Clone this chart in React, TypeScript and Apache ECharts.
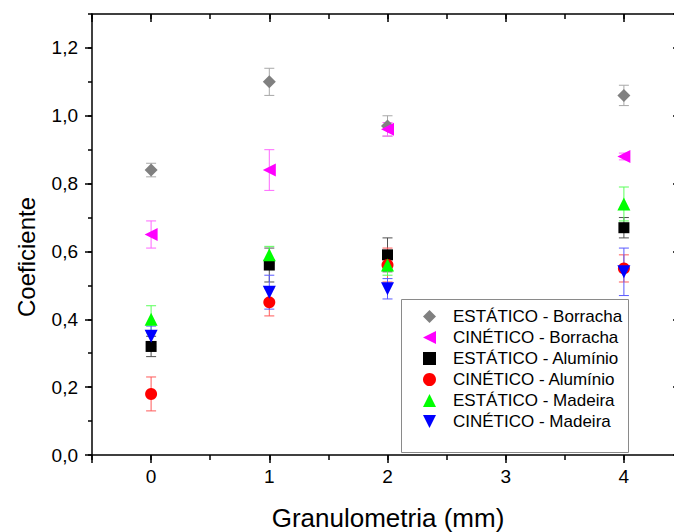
import React, { useEffect, useRef } from "react";
import * as echarts from "echarts";

const xValues = [0, 1, 2, 4];
const seriesNames = [
  "ESTÁTICO - Borracha",
  "CINÉTICO - Borracha",
  "ESTÁTICO - Alumínio",
  "CINÉTICO - Alumínio",
  "ESTÁTICO - Madeira",
  "CINÉTICO - Madeira",
];
const estaticoBorracha = [0.84, 1.1, 0.97, 1.06];
const estaticoBorrachaErr = [0.02, 0.04, 0.03, 0.03];
const cineticoBorracha = [0.65, 0.84, 0.96, 0.88];
const cineticoBorrachaErr = [0.04, 0.06, 0.02, 0.01];
const estaticoAluminio = [0.32, 0.56, 0.59, 0.67];
const estaticoAluminioErr = [0.03, 0.05, 0.05, 0.03];
const cineticoAluminio = [0.18, 0.45, 0.56, 0.55];
const cineticoAluminioErr = [0.05, 0.04, 0.05, 0.04];
const estaticoMadeira = [0.4, 0.59, 0.56, 0.74];
const estaticoMadeiraErr = [0.04, 0.025, 0.03, 0.05];
const cineticoMadeira = [0.35, 0.48, 0.49, 0.54];
const cineticoMadeiraErr = [0.03, 0.05, 0.03, 0.07];

const yTickLabels = ["0,0", "0,2", "0,4", "0,6", "0,8", "1,0", "1,2"];
const xTickLabels = ["0", "1", "2", "3", "4"];

const FONT = "'Liberation Sans', Arial, sans-serif";

const markerColors = ["#808080", "#ff00ff", "#000000", "#ff0000", "#00ff00", "#0000ff"];
const errColors = ["#a8a8a8", "#ff66ff", "#505050", "#ff5a5a", "#5aff5a", "#5a5aff"];
const symbols = [
  "diamond",
  "path://M0,5 L10,0 L10,10 Z",
  "rect",
  "circle",
  "path://M5,0 L10,10 L0,10 Z",
  "path://M0,0 L10,0 L5,10 Z",
];
const symbolSizes = [13, 13, 11, 12, 13, 13];

const values = [
  estaticoBorracha,
  cineticoBorracha,
  estaticoAluminio,
  cineticoAluminio,
  estaticoMadeira,
  cineticoMadeira,
];
const errors = [
  estaticoBorrachaErr,
  cineticoBorrachaErr,
  estaticoAluminioErr,
  cineticoAluminioErr,
  estaticoMadeiraErr,
  cineticoMadeiraErr,
];

export default function App() {
  const ref = useRef<HTMLDivElement>(null);
  useEffect(() => {
    if (!ref.current) return;
    const chart = echarts.init(ref.current, undefined, { renderer: "svg" });

    const errSeries = values.map((vals, si) => ({
      type: "custom",
      xAxisIndex: 0,
      yAxisIndex: 0,
      z: 2,
      silent: true,
      encode: { x: 0, y: [1, 2] },
      data: vals.map((v, i) => [xValues[i], v - errors[si][i], v + errors[si][i]]),
      renderItem: (params: any, api: any) => {
        const x = api.value(0);
        const top = api.coord([x, api.value(2)]);
        const bot = api.coord([x, api.value(1)]);
        const hw = 5;
        const st = { stroke: errColors[si], lineWidth: 1 };
        return {
          type: "group",
          children: [
            { type: "line", shape: { x1: top[0], y1: top[1], x2: bot[0], y2: bot[1] }, style: st },
            { type: "line", shape: { x1: top[0] - hw, y1: top[1], x2: top[0] + hw, y2: top[1] }, style: st },
            { type: "line", shape: { x1: bot[0] - hw, y1: bot[1], x2: bot[0] + hw, y2: bot[1] }, style: st },
          ],
        };
      },
    }));

    const scatterSeries = values.map((vals, si) => ({
      type: "scatter",
      name: seriesNames[si],
      xAxisIndex: 0,
      yAxisIndex: 0,
      z: 3,
      symbol: symbols[si],
      symbolSize: symbolSizes[si],
      itemStyle: { color: markerColors[si], opacity: 1 },
      data: vals.map((v, i) => [xValues[i], v]),
    }));

    const axisLine = { show: true, onZero: false, lineStyle: { color: "#000", width: 1.5 } };
    const noLine = { show: false, onZero: false };
    const tickStyle = { color: "#000", width: 1.5 };

    chart.setOption({
      animation: false,
      backgroundColor: "#fff",
      grid: { left: 92, top: 14, width: 591, height: 441, containLabel: false },
      xAxis: [
        {
          type: "value",
          position: "bottom",
          min: -0.5,
          max: 4.5,
          splitNumber: 5,
          axisLine,
          axisTick: { show: true, inside: false, length: 8, lineStyle: tickStyle },
          axisLabel: {
            margin: 12,
            fontSize: 19,
            fontFamily: FONT,
            color: "#000",
            formatter: (v: number) => (Number.isInteger(v) && v >= 0 ? xTickLabels[v] ?? "" : ""),
          },
          splitLine: { show: false },
        },
        {
          type: "value",
          position: "bottom",
          min: -0.5,
          max: 4.5,
          interval: 0.5,
          axisLine: noLine,
          axisTick: { show: true, inside: false, length: 5, lineStyle: tickStyle },
          axisLabel: { show: false },
          splitLine: { show: false },
        },
        {
          type: "value",
          position: "top",
          min: -0.5,
          max: 4.5,
          splitNumber: 5,
          axisLine,
          axisTick: { show: true, inside: true, length: 8, lineStyle: tickStyle },
          axisLabel: { show: false },
          splitLine: { show: false },
        },
        {
          type: "value",
          position: "top",
          min: -0.5,
          max: 4.5,
          interval: 0.5,
          axisLine: noLine,
          axisTick: { show: true, inside: true, length: 5, lineStyle: tickStyle },
          axisLabel: { show: false },
          splitLine: { show: false },
        },
      ],
      yAxis: [
        {
          type: "value",
          position: "left",
          min: 0,
          max: 1.3,
          interval: 0.2,
          axisLine,
          axisTick: { show: true, inside: false, length: 7, lineStyle: tickStyle },
          axisLabel: {
            margin: 14,
            fontSize: 19,
            fontFamily: FONT,
            color: "#000",
            showMaxLabel: false,
            formatter: (v: number) => {
              const idx = Math.round(v / 0.2);
              return Math.abs(idx * 0.2 - v) < 1e-6 ? yTickLabels[idx] ?? "" : "";
            },
          },
          splitLine: { show: false },
        },
        {
          type: "value",
          position: "left",
          min: 0,
          max: 1.3,
          interval: 0.1,
          axisLine: noLine,
          axisTick: { show: true, inside: false, length: 4, lineStyle: tickStyle },
          axisLabel: { show: false },
          splitLine: { show: false },
        },
        {
          type: "value",
          position: "right",
          min: 0,
          max: 1.3,
          interval: 0.2,
          axisLine,
          axisTick: { show: true, inside: true, length: 10, lineStyle: tickStyle },
          axisLabel: { show: false },
          splitLine: { show: false },
        },
        {
          type: "value",
          position: "right",
          min: 0,
          max: 1.3,
          interval: 0.1,
          axisLine: noLine,
          axisTick: { show: true, inside: true, length: 5, lineStyle: tickStyle },
          axisLabel: { show: false },
          splitLine: { show: false },
        },
      ],
      legend: {
        data: seriesNames,
        orient: "vertical",
        left: 423,
        top: 308,
        padding: 0,
        itemWidth: 13,
        itemHeight: 13,
        itemGap: 4,
        symbolKeepAspect: true,
        selectedMode: false,
        z: 5,
        textStyle: {
          fontSize: 17,
          fontFamily: FONT,
          color: "#000",
          lineHeight: 16,
          padding: [0, 0, 0, 12],
        },
      },
      graphic: [
        {
          type: "rect",
          z: 4,
          shape: { x: 401.5, y: 299.5, width: 227, height: 153 },
          style: { fill: "#fff", stroke: "#8a8a8a", lineWidth: 1 },
        },
        {
          type: "text",
          x: 388,
          y: 518,
          style: {
            text: "Granulometria (mm)",
            font: `26px ${FONT}`,
            fill: "#000",
            align: "center",
            verticalAlign: "middle",
          },
        },
        {
          type: "text",
          x: 26,
          y: 257,
          rotation: Math.PI / 2,
          style: {
            text: "Coeficiente",
            font: `24px ${FONT}`,
            fill: "#000",
            align: "center",
            verticalAlign: "middle",
          },
        },
      ],
      series: [...errSeries, ...scatterSeries],
    });
    return () => chart.dispose();
  }, []);
  return (
    <div style={{ position: "absolute", left: 0, top: 0, width: 674, height: 532, overflow: "hidden" }}>
      <div ref={ref} style={{ width: 692, height: 532 }} />
    </div>
  );
}
